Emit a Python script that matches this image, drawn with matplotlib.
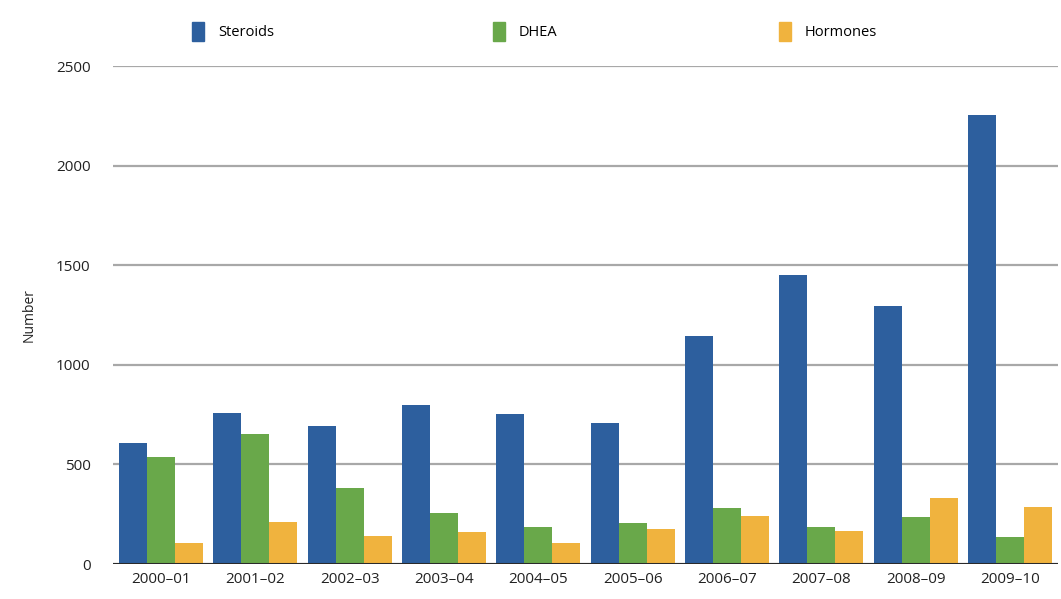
import numpy as np
import matplotlib
matplotlib.use("Agg")
import matplotlib.pyplot as plt
import matplotlib.patches as mpatches

seasons = ["2000–01", "2001–02", "2002–03", "2003–04", "2004–05",
           "2005–06", "2006–07", "2007–08", "2008–09", "2009–10"]
steroids = [607, 758, 693, 798, 753, 708, 1145, 1451, 1295, 2254]
dhea = [537, 653, 382, 256, 186, 206, 281, 186, 236, 136]
hormones = [105, 211, 141, 161, 105, 176, 241, 166, 331, 286]

series_names = ["Steroids", "DHEA", "Hormones"]
colors = ["#2d5f9e", "#69a84a", "#f0b33e"]
legend_x = [186, 487, 773]  # left edge of each legend entry, in pixels

plt.rcParams['font.family'] = ['Open Sans', 'DejaVu Sans']

fig = plt.figure(figsize=(10.61, 5.99), dpi=100)
ax = fig.add_axes([113 / 1061, 35 / 599, 945 / 1061, 498 / 599])

x = np.arange(len(seasons))
w = 0.297
for i, (vals, c) in enumerate(zip([steroids, dhea, hormones], colors)):
    ax.bar(x + (i - 1) * w, vals, width=w, color=c, zorder=3, linewidth=0)

ax.set_ylim(0, 2500)
ax.set_xlim(-0.51, 9.51)
ax.set_yticks(range(0, 2501, 500))
ax.yaxis.grid(True, color="#a8a8a8", linewidth=1.6, zorder=0)
ax.axhline(0, color="#2a2a2a", linewidth=2.2, zorder=4)

ax.set_xticks(x)
ax.set_xticklabels(seasons, fontsize=11, color="#222222")
ax.tick_params(axis="both", length=0)
ax.tick_params(axis="y", labelsize=11, labelcolor="#222222", pad=16)
ax.tick_params(axis="x", pad=6)
for s in ax.spines.values():
    s.set_visible(False)

ax.set_ylabel("Number", fontsize=10, color="#222222", labelpad=14)

# one legend per series so each can sit at its own spot
for n, c, lx in zip(series_names, colors, legend_x):
    fig.legend(handles=[mpatches.Patch(color=c, label=n)], loc="upper left",
               bbox_to_anchor=(lx / 1061, 1 - 16 / 599), frameon=False,
               fontsize=10.5, handlelength=0.8, handleheight=1.6,
               handletextpad=1.0, borderaxespad=0)

fig.savefig("out.png", dpi=100)
